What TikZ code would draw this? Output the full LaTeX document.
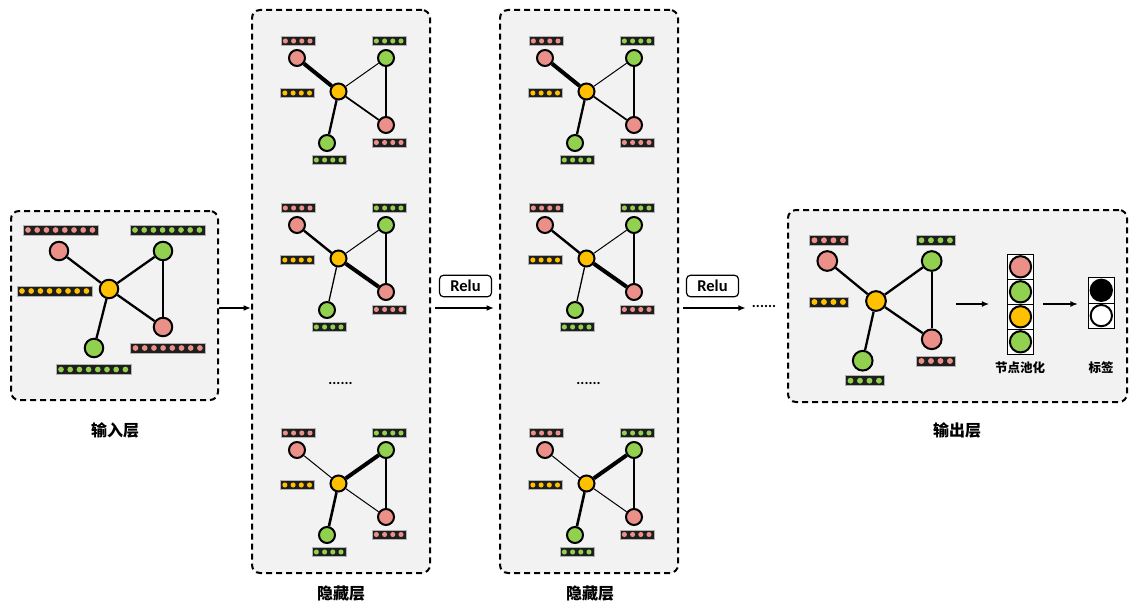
\documentclass[tikz,border=0pt]{standalone}
\usepackage{fontspec}
\newfontfamily\cjk{Noto Sans CJK SC}
\newfontfamily\calib{Carlito}
\usetikzlibrary{arrows.meta,calc}
\definecolor{pinkc}{HTML}{EA9088}
\definecolor{greenc}{HTML}{92D050}
\definecolor{yellowc}{HTML}{FFC000}
\definecolor{panelbg}{HTML}{F2F2F2}
\definecolor{barbg}{HTML}{1E1E1E}
\tikzset{
 panel/.style={draw, line width=2pt, dash pattern=on 6pt off 4pt, rounded corners=8pt, fill=panelbg, inner sep=0pt},
 gnode/.style={circle, draw, line width=2pt, inner sep=0pt, minimum size=#1},
 gnode/.default=16pt,
 fbarbox/.style={draw=gray!60, line width=0.6pt, fill=barbg, inner sep=0pt},
 relubox/.style={draw, line width=1.2pt, rounded corners=4pt, fill=white, minimum width=52pt, minimum height=21.5pt, inner sep=0pt, font=\calib\bfseries\fontsize{16.5}{16.5}\selectfont},
 arr/.style={line width=1.5pt, -{Latex[length=7.5pt,width=6pt]}},
 cell/.style={draw, line width=0.8pt, fill=white, minimum width=25.6pt, minimum height=25pt, inner sep=0pt},
 lbl/.style={font=\cjk\bfseries\fontsize{16}{16}\selectfont},
 slbl/.style={font=\cjk\bfseries\fontsize{12.5}{13}\selectfont},
 dotstxt/.style={font=\calib\bfseries\fontsize{15}{15}\selectfont, inner sep=0pt},
 edge/.style={line width=2.3pt},
}
% feature bar: name, center, count, colour, pitch
\newcommand{\fbar}[5]{%
 \node[fbarbox, minimum width={#3*#5*1pt+1.5pt}, minimum height={#5*1pt+0.5pt}] (#1) at (#2) {};
 \foreach \k in {1,...,#3}{\fill[#4] ([xshift={(\k-0.5)*#5*1pt+0.75pt}]#1.west) circle[radius={#5*0.31pt}];}
}
% hidden graph: prefix, dx, dy, widths (pTL-y, y-gTR, gTR-pBR, y-pBR, y-gB)
\newcommand{\hgraph}[8]{%
\begin{scope}[shift={(#2,#3)}]
 \fbar{#1bp}{298,41}{4}{pinkc}{8.2}
 \fbar{#1bg}{389,41}{4}{greenc}{8.2}
 \fbar{#1by}{297.5,93}{4}{yellowc}{8.2}
 \fbar{#1bq}{389,142.5}{4}{pinkc}{8.2}
 \fbar{#1bh}{329,160}{4}{greenc}{8.2}
 \node[gnode, fill=pinkc] (#1p) at (297,58) {};
 \node[gnode, fill=greenc] (#1g) at (386,58) {};
 \node[gnode, fill=yellowc] (#1y) at (338.5,91.5) {};
 \node[gnode, fill=pinkc] (#1q) at (386,125) {};
 \node[gnode, fill=greenc] (#1h) at (327,143) {};
 \draw[line width=#4pt] (#1p) -- (#1y);
 \draw[line width=#5pt] (#1y) -- (#1g);
 \draw[line width=#6pt] (#1g) -- (#1q);
 \draw[line width=#7pt] (#1y) -- (#1q);
 \draw[line width=#8pt] (#1y) -- (#1h);
\end{scope}}
\begin{document}
\begin{tikzpicture}[x=1pt,y=-1pt]
\useasboundingbox (0,0) rectangle (1131,604);
% panels
\node[panel, minimum width=207pt, minimum height=189pt] (inbox) at (114.5,305.5) {};
\node[panel, minimum width=178pt, minimum height=563pt] (h1) at (341,291.5) {};
\node[panel, minimum width=178pt, minimum height=563pt] (h2) at (589,291.5) {};
\node[panel, minimum width=339pt, minimum height=192pt] (outbox) at (957.5,306) {};
% input graph
\fbar{ibp}{60.5,230}{8}{pinkc}{9.2}
\fbar{ibg}{167.5,230}{8}{greenc}{9.2}
\fbar{iby}{54.5,291}{8}{yellowc}{9.2}
\fbar{ibq}{168,348}{8}{pinkc}{9.2}
\fbar{ibh}{93.5,369.5}{8}{greenc}{9.2}
\node[gnode=18.5pt, fill=pinkc] (ip) at (59,251) {};
\node[gnode=18.5pt, fill=greenc] (ig) at (163,251) {};
\node[gnode=18.5pt, fill=yellowc] (iy) at (109,289) {};
\node[gnode=18.5pt, fill=pinkc] (iq) at (163,327) {};
\node[gnode=18.5pt, fill=greenc] (ih) at (94,348) {};
\draw[edge] (ip) -- (iy);
\draw[edge] (iy) -- (ig);
\draw[edge] (ig) -- (iq);
\draw[edge] (iy) -- (iq);
\draw[edge] (iy) -- (ih);
% hidden graphs
\hgraph{a}{0}{0}{4}{1}{2.6}{1.7}{2.3}
\hgraph{b}{0}{167}{2.4}{1}{2.6}{4}{1.3}
\hgraph{c}{0}{392}{1}{4}{2.6}{1}{2.6}
\hgraph{d}{248}{0}{4}{1}{2.6}{1.7}{2.3}
\hgraph{e}{248}{167}{2.4}{1}{2.6}{4}{1.3}
\hgraph{f}{248}{392}{1}{4}{2.6}{1}{2.6}
\node[dotstxt] (hd1) at (340.5,383) {......};
\node[dotstxt] (hd2) at (588.5,383) {......};
% connectors between panels
\draw[arr] (inbox.east |- 0,308) -- (h1.west |- 0,308);
\node[relubox] (relu1) at (465.5,286) {Relu};
\draw[arr, shorten <=4pt, shorten >=5pt] (h1.east |- 0,308) -- (h2.west |- 0,308);
\node[relubox] (relu2) at (712.5,286) {Relu};
\node[dotstxt] (odots) at (764,306) {......};
\draw[arr, shorten <=4pt, shorten >=6pt] (h2.east |- 0,308) -- (odots.west |- 0,308);
% output graph
\fbar{obp}{829,240.3}{4}{pinkc}{9.5}
\fbar{obg}{936,240.3}{4}{greenc}{9.5}
\fbar{oby}{829,302}{4}{yellowc}{9.5}
\fbar{obq}{936,361}{4}{pinkc}{9.5}
\fbar{obh}{865,380.7}{4}{greenc}{9.5}
\node[gnode=19.7pt, fill=pinkc] (op) at (827.3,261) {};
\node[gnode=19.7pt, fill=greenc] (og) at (931.7,261) {};
\node[gnode=19.7pt, fill=yellowc] (oy) at (876,301) {};
\node[gnode=19.7pt, fill=pinkc] (oq) at (931.7,339.3) {};
\node[gnode=19.7pt, fill=greenc] (oh) at (862.7,360.7) {};
\draw[edge] (op) -- (oy);
\draw[edge] (oy) -- (og);
\draw[edge] (og) -- (oq);
\draw[edge] (oy) -- (oq);
\draw[edge] (oy) -- (oh);
% pooled column
\node[cell] (pc1) at (1020.5,266.8) {};
\node[cell] (pc2) at (1020.5,291.8) {};
\node[cell] (pc3) at (1020.5,316.8) {};
\node[cell] (pc4) at (1020.5,341.8) {};
\node[gnode=21.3pt, fill=pinkc] (pn1) at (pc1) {};
\node[gnode=21.3pt, fill=greenc] (pn2) at (pc2) {};
\node[gnode=21.3pt, fill=yellowc] (pn3) at (pc3) {};
\node[gnode=21.3pt, fill=greenc] (pn4) at (pc4) {};
% label column
\node[cell, minimum width=26pt, minimum height=25.3pt] (lc1) at (1101.3,290.3) {};
\node[cell, minimum width=26pt, minimum height=25.3pt] (lc2) at (1101.3,315.6) {};
\node[gnode=21.3pt, fill=black] (ln1) at (lc1) {};
\node[gnode=21.3pt, fill=white] (ln2) at (lc2) {};
% output arrows
\coordinate (oa1) at (956,304);
\draw[arr] (oa1) -- ([xshift=-18pt]pc2.west |- oa1);
\coordinate (oa2) at (1043,304);
\draw[arr] (oa2) -- ([xshift=-10pt]lc1.west |- oa2);
% labels
\node[lbl] (t1) at (115,430) {输入层};
\node[lbl] (t2) at (341,594) {隐藏层};
\node[lbl] (t3) at (590,594) {隐藏层};
\node[lbl] (t4) at (957,430) {输出层};
\node[slbl] (t5) at (1020,368) {节点池化};
\node[slbl] (t6) at (1101,368) {标签};
\end{tikzpicture}
\end{document}
